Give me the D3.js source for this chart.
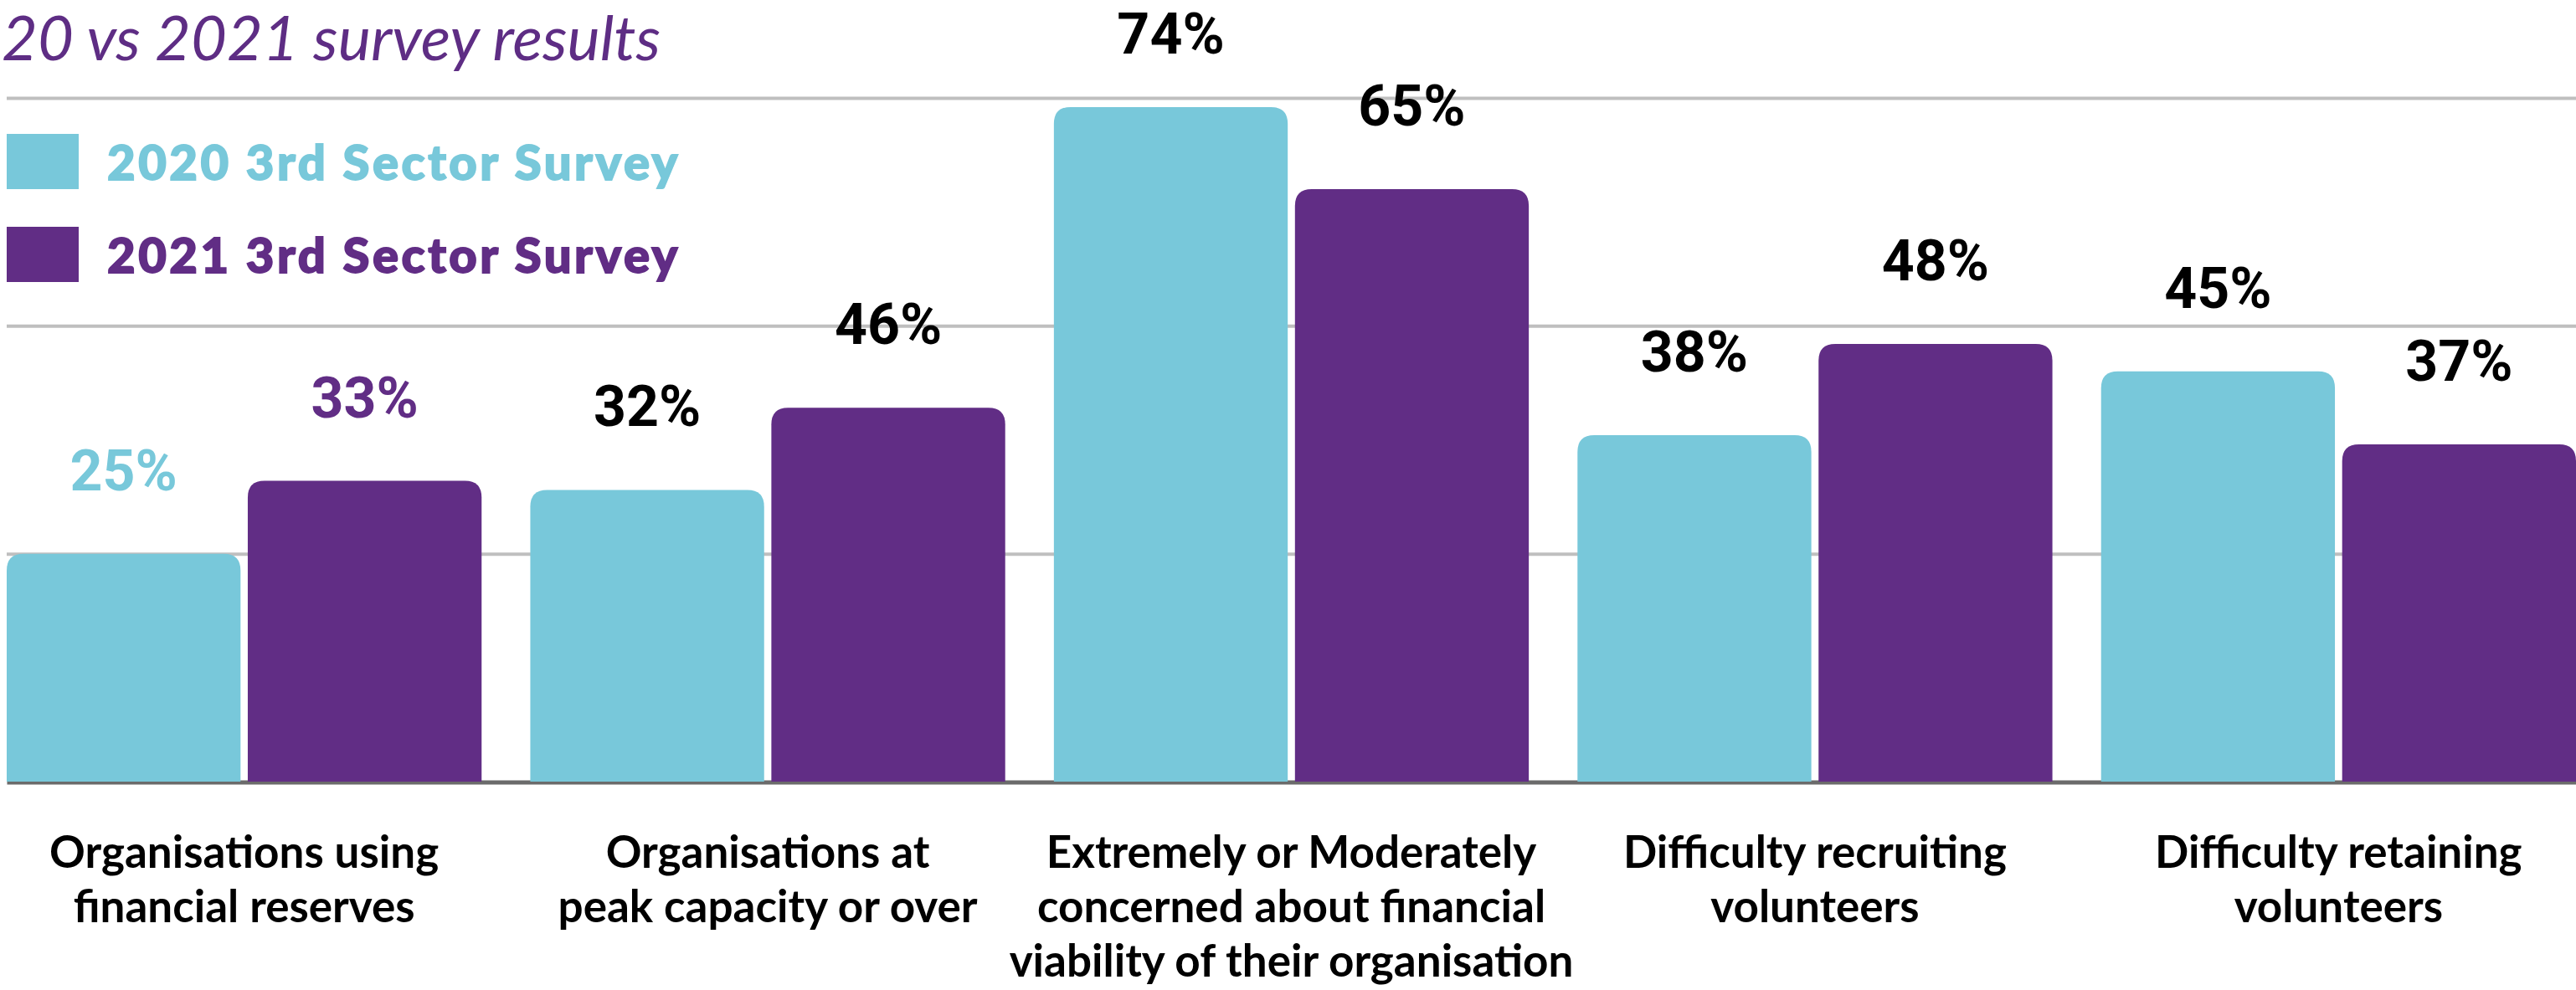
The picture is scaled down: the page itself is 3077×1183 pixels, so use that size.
<!DOCTYPE html>
<html>
<head>
<meta charset="utf-8">
<script src="https://cdn.jsdelivr.net/npm/d3@7"></script>
<style>
  html, body { margin: 0; padding: 0; background: #ffffff; }
  svg { display: block; }
</style>
</head>
<body>
<div id="chart"></div>
<script>
// ---------- data ----------
const title = "20 vs 2021 survey results";
const categories = [
  "Organisations using\nfinancial reserves",
  "Organisations at\npeak capacity or over",
  "Extremely or Moderately\nconcerned about financial\nviability of their organisation",
  "Difficulty recruiting\nvolunteers",
  "Difficulty retaining\nvolunteers"
];
const seriesNames = ["2020 3rd Sector Survey", "2021 3rd Sector Survey"];
const values2020 = [25, 32, 74, 38, 45];
const values2021 = [33, 41, 65, 48, 37];
const labels2020 = ["25%", "32%", "74%", "38%", "45%"];
const labels2021 = ["33%", "46%", "65%", "48%", "37%"];
const gridTicks = [25, 50, 75];

// ---------- layout ----------
const W = 3077, H = 1183;
const colors = ["#78C8DA", "#612D85"];
const svg = d3.select("#chart").append("svg").attr("width", W).attr("height", H);

const x0 = d3.scaleBand().domain(categories).range([8, 3077]).paddingInner(0.093).paddingOuter(0);
const x1 = d3.scaleBand().domain(seriesNames).range([0, x0.bandwidth()]).paddingInner(0.03);
const y = d3.scaleLinear().domain([0, 75]).range([934, 117]);

// gridlines
const grid = svg.append("g").attr("transform", "translate(8,0)")
  .call(d3.axisLeft(y).tickValues(gridTicks).tickSize(-(3077 - 8)).tickFormat(""));
grid.select(".domain").remove();
grid.selectAll(".tick line").attr("stroke", "#BFBFBF").attr("stroke-width", 4);

// baseline
const xAxis = svg.append("g").attr("transform", "translate(0,934.5)")
  .call(d3.axisBottom(x0).tickSize(0).tickFormat(""));
xAxis.select(".domain").attr("stroke", "#6B6B6B").attr("stroke-width", 5);

// bars
const rows = categories.map((c, i) => ({
  cat: c,
  items: [
    { s: seriesNames[0], v: values2020[i], label: labels2020[i], si: 0, gi: i },
    { s: seriesNames[1], v: values2021[i], label: labels2021[i], si: 1, gi: i }
  ]
}));

function topRounded(xx, yy, w, h, r) {
  r = Math.min(r, w / 2, h);
  return `M${xx},${yy + h}V${yy + r}Q${xx},${yy} ${xx + r},${yy}H${xx + w - r}Q${xx + w},${yy} ${xx + w},${yy + r}V${yy + h}Z`;
}

const groups = svg.append("g").selectAll("g").data(rows).join("g")
  .attr("transform", d => `translate(${x0(d.cat)},0)`);

groups.selectAll("path").data(d => d.items).join("path")
  .attr("d", d => topRounded(x1(d.s), y(d.v), x1.bandwidth(), y(0) - y(d.v), 20))
  .attr("fill", d => colors[d.si]);

groups.selectAll("text.val").data(d => d.items).join("text")
  .attr("class", "val")
  .attr("x", d => x1(d.s) + x1.bandwidth() / 2)
  .attr("y", d => Math.max(y(d.v) - 76, 64))
  .attr("text-anchor", "middle")
  .attr("font-family", "Roboto, 'Open Sans', sans-serif")
  .attr("font-weight", 700)
  .attr("font-size", 68)
  .attr("fill", d => d.gi === 0 ? colors[d.si] : "#000000")
  .text(d => d.label);

// category labels
const catG = svg.append("g");
categories.forEach(c => {
  const t = catG.append("text")
    .attr("x", x0(c) + x0.bandwidth() / 2)
    .attr("y", 1037)
    .attr("text-anchor", "middle")
    .attr("font-family", "Lato, sans-serif")
    .attr("font-weight", 700)
    .attr("font-size", 53)
    .attr("fill", "#000000");
  c.split("\n").forEach((line, k) => {
    t.append("tspan").attr("x", x0(c) + x0.bandwidth() / 2).attr("y", 1037 + k * 65).text(line);
  });
});

// title
svg.append("text")
  .attr("x", 2).attr("y", 72)
  .attr("font-family", "Lato, sans-serif")
  .attr("font-style", "italic")
  .attr("font-weight", 400)
  .attr("font-size", 74)
  .attr("fill", "#5E2D84")
  .text(title);

// legend
const legend = svg.append("g").selectAll("g").data(seriesNames).join("g")
  .attr("transform", (d, i) => `translate(8,${160 + i * 111})`);
legend.append("rect").attr("width", 86).attr("height", 66).attr("fill", (d, i) => colors[i]);
legend.append("text")
  .attr("x", 120).attr("y", 55)
  .attr("font-family", "Lato, sans-serif")
  .attr("font-weight", 900)
  .attr("font-size", 58)
  .attr("letter-spacing", 3.5)
  .attr("stroke", (d, i) => colors[i])
  .attr("stroke-width", 1.8)
  .attr("fill", (d, i) => colors[i])
  .text(d => d);
</script>
</body>
</html>
